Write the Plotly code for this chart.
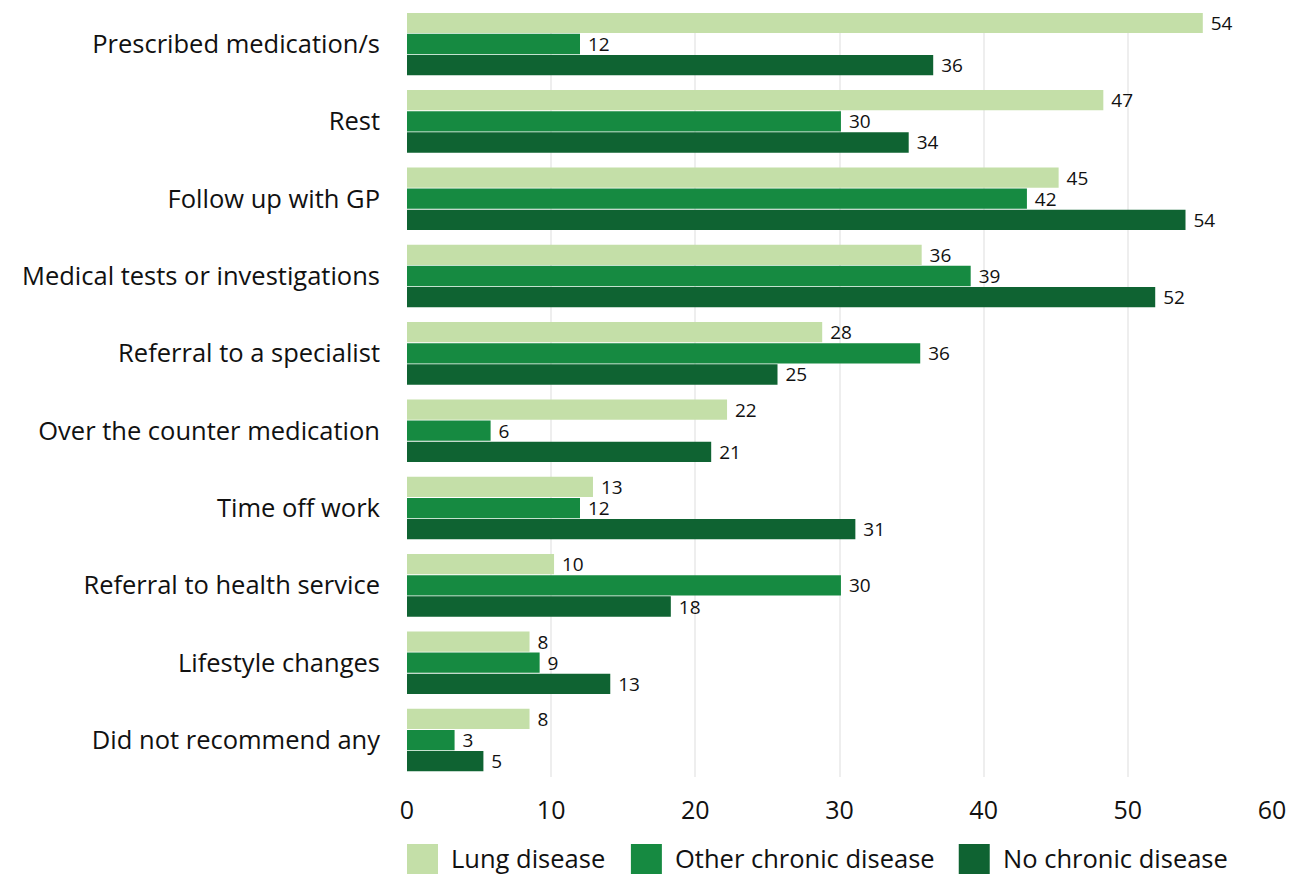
import plotly.graph_objects as go

categories = [
    "Prescribed medication/s",
    "Rest",
    "Follow up with GP",
    "Medical tests or investigations",
    "Referral to a specialist",
    "Over the counter medication",
    "Time off work",
    "Referral to health service",
    "Lifestyle changes",
    "Did not recommend any",
]
series_names = ["Lung disease", "Other chronic disease", "No chronic disease"]
lung = [55.2, 48.3, 45.2, 35.7, 28.8, 22.2, 12.9, 10.2, 8.5, 8.5]
other = [12.0, 30.1, 43.0, 39.1, 35.6, 5.8, 12.0, 30.1, 9.2, 3.3]
none_ = [36.5, 34.8, 54.0, 51.9, 25.7, 21.1, 31.1, 18.3, 14.1, 5.3]
lung_labels = ["54", "47", "45", "36", "28", "22", "13", "10", "8", "8"]
other_labels = ["12", "30", "42", "39", "36", "6", "12", "30", "9", "3"]
none_labels = ["36", "34", "54", "52", "25", "21", "31", "18", "13", "5"]
x_ticks = [0, 10, 20, 30, 40, 50, 60]

colors = ["#c4dfa8", "#168a41", "#0f6332"]
FONT = "Open Sans"

# plot area geometry (figure pixels)
L, T, PW, PH = 399, 5, 865.4, 764
W, H = 1300, 874

fig = go.Figure()
for name, vals, labs, col in zip(series_names, [lung, other, none_],
                                 [lung_labels, other_labels, none_labels], colors):
    fig.add_trace(go.Bar(
        y=categories, x=vals, name=name, orientation="h",
        marker=dict(color=col, line=dict(width=0)),
        text=labs, texttemplate=" %{text}", textposition="outside", cliponaxis=False,
        constraintext="none",
        textfont=dict(family=FONT, size=19, color="#111111"),
        showlegend=False,
    ))

fig.update_layout(
    width=W, height=H,
    margin=dict(l=L, r=W - L - PW, t=T, b=H - T - PH, autoexpand=False),
    paper_bgcolor="white", plot_bgcolor="white",
    barmode="group", bargap=0.18, bargroupgap=0.04,
    font=dict(family=FONT, size=25, color="#111111"),
    xaxis=dict(range=[0, 60], tickvals=x_ticks, showgrid=True,
               gridcolor="#eeeeee", gridwidth=1.5, zeroline=False,
               showline=False, ticks="", ticklabelstandoff=16,
               tickfont=dict(family=FONT, size=25, color="#111111")),
    yaxis=dict(range=[9.478, -0.401], showgrid=False, showline=False,
               ticks="", ticklabelstandoff=26,
               tickfont=dict(family=FONT, size=25.5, color="#111111")),
)

def px_x(fx):
    return (fx - L) / PW

def px_y(fy):
    return (T + PH - fy) / PH

# legend drawn manually with large swatches
leg_x = [399, 623, 951]
for name, col, lx in zip(series_names, colors, leg_x):
    fig.add_shape(type="rect", xref="paper", yref="paper",
                  x0=px_x(lx), x1=px_x(lx + 31),
                  y0=px_y(836), y1=px_y(868),
                  fillcolor=col, line=dict(width=0), layer="above")
    fig.add_annotation(xref="paper", yref="paper",
                       x=px_x(lx + 42), y=px_y(849.5),
                       text=name, showarrow=False, xanchor="left", yanchor="middle",
                       font=dict(family=FONT, size=25.5, color="#111111"))

fig.write_html("out.html")
